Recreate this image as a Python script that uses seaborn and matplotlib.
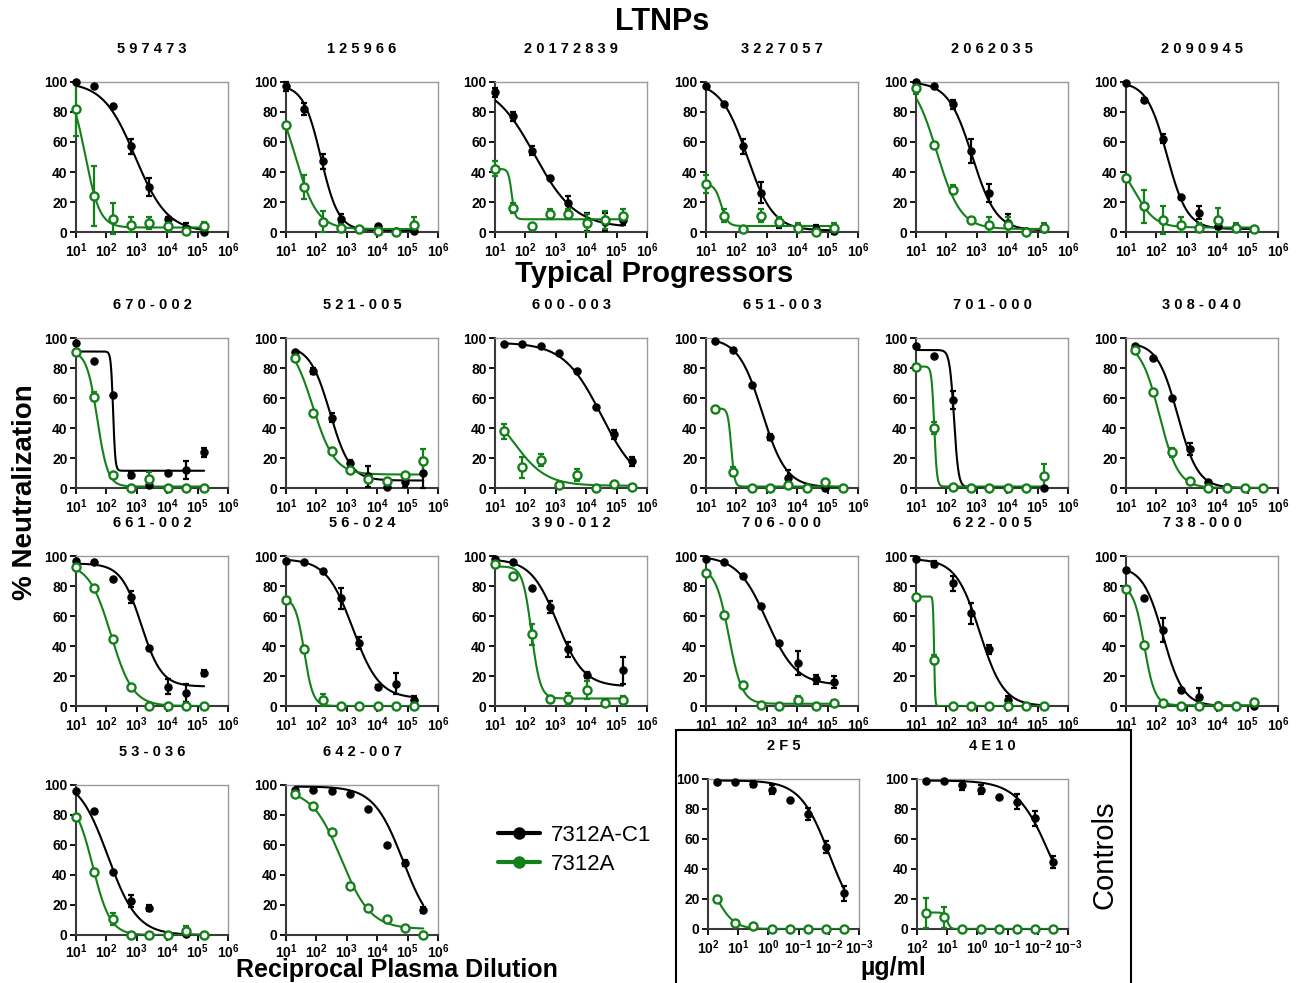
import numpy as np
import matplotlib
matplotlib.use("Agg")
import matplotlib.pyplot as plt
from matplotlib.lines import Line2D
from matplotlib.patches import Rectangle
import seaborn as sns

# === Data: dilution / concentration series ===
DIL_10 = [10, 40, 160, 640, 2560, 10240, 40960, 163840]
DIL_20 = [20, 80, 320, 1280, 5120, 20480, 81920, 327680]
CONC = [50, 12.5, 3.125, 0.781, 0.195, 0.0488, 0.0122, 0.00305]

NAMES = ["597473", "125966", "20172839", "3227057", "2062035", "2090945",
         "670-002", "521-005", "600-003", "651-003", "701-000", "308-040",
         "661-002", "56-024", "390-012", "706-000", "622-005", "738-000",
         "53-036", "642-007"]
START = [10, 10, 10, 10, 10, 10,
         10, 20, 20, 20, 10, 20,
         10, 10, 10, 10, 10, 10,
         10, 20]

# 7312A-C1 (black, filled)
C1_MEAN = [
    [100, 97, 84, 57, 30, 9, 3, 0],
    [97, 82, 47, 9, 2, 4, 1, 1],
    [93, 77, 54, 36, 19, 7, 7, 8],
    [97, 85, 57, 26, 6, 3, 2, 1],
    [100, 97, 85, 54, 26, 6, 1, 2],
    [99, 88, 62, 23, 13, 4, 3, 2],
    [97, 85, 62, 9, 2, 10, 12, 24],
    [91, 78, 47, 17, 8, 1, 4, 10],
    [96, 96, 95, 90, 78, 54, 36, 18],
    [98, 92, 69, 34, 7, 1, 0, 0],
    [95, 88, 59, 0, 0, 0, 0, 0],
    [95, 87, 60, 26, 4, 1, 0, 0],
    [97, 96, 85, 73, 39, 13, 9, 22],
    [97, 96, 90, 72, 42, 13, 15, 4],
    [98, 96, 79, 66, 38, 21, 3, 24],
    [98, 96, 87, 67, 42, 29, 18, 16],
    [98, 95, 82, 62, 38, 4, 0, 0],
    [91, 72, 51, 11, 6, 1, 0, 0],
    [96, 83, 42, 23, 18, 0, 1, 0],
    [97, 97, 96, 94, 84, 60, 48, 17],
]
C1_SD = [
    [0, 0, 0, 5, 6, 1, 3, 0],
    [3, 4, 5, 3, 1, 1, 0, 0],
    [3, 3, 3, 1, 5, 6, 6, 3],
    [0, 0, 5, 7, 3, 2, 3, 2],
    [0, 1, 3, 8, 6, 6, 1, 1],
    [0, 1, 3, 1, 4, 2, 2, 1],
    [0, 0, 0, 2, 1, 1, 6, 3],
    [0, 2, 3, 2, 7, 0, 3, 10],
    [0, 0, 0, 0, 0, 0, 3, 3],
    [0, 0, 0, 2, 5, 0, 0, 0],
    [0, 0, 6, 0, 0, 0, 0, 0],
    [0, 0, 0, 4, 1, 0, 0, 0],
    [0, 0, 0, 4, 0, 5, 6, 2],
    [0, 0, 0, 7, 4, 1, 7, 3],
    [0, 0, 0, 4, 5, 2, 1, 9],
    [0, 0, 0, 0, 0, 8, 3, 4],
    [0, 2, 5, 7, 3, 3, 0, 0],
    [0, 1, 8, 1, 6, 1, 0, 0],
    [0, 0, 0, 4, 2, 0, 0, 0],
    [0, 0, 0, 0, 0, 0, 2, 2],
]
# 7312A (green, open)
A_MEAN = [
    [82, 24, 9, 5, 6, 4, 1, 4],
    [71, 30, 7, 3, 2, 1, 0, 5],
    [42, 16, 4, 12, 12, 6, 8, 11],
    [32, 11, 2, 11, 7, 3, 0, 3],
    [96, 58, 28, 8, 5, 5, 0, 3],
    [36, 17, 8, 5, 3, 8, 3, 2],
    [91, 61, 9, 0, 6, 0, 0, 0],
    [87, 50, 25, 12, 6, 5, 9, 18],
    [38, 14, 19, 2, 9, 0, 3, 1],
    [53, 11, 0, 0, 2, 0, 4, 0],
    [81, 40, 1, 0, 0, 0, 0, 8],
    [92, 64, 24, 5, 0, 0, 0, 0],
    [93, 79, 45, 13, 0, 0, 0, 0],
    [71, 38, 4, 0, 0, 0, 0, 0],
    [95, 87, 48, 5, 5, 11, 2, 4],
    [89, 61, 14, 1, 0, 4, 0, 2],
    [73, 31, 0, 0, 0, 0, 0, 0],
    [78, 41, 2, 0, 0, 0, 0, 3],
    [79, 42, 11, 0, 0, 0, 3, 0],
    [94, 86, 69, 33, 18, 11, 5, 0],
]
A_SD = [
    [18, 20, 10, 5, 4, 4, 2, 3],
    [0, 8, 7, 3, 1, 1, 0, 5],
    [5, 3, 0, 3, 3, 6, 6, 4],
    [6, 4, 0, 4, 3, 3, 0, 3],
    [4, 0, 3, 0, 5, 5, 0, 3],
    [0, 11, 9, 5, 3, 8, 3, 0],
    [0, 3, 0, 0, 5, 0, 0, 0],
    [0, 0, 2, 0, 2, 0, 0, 8],
    [5, 7, 4, 0, 4, 0, 0, 0],
    [0, 3, 0, 0, 2, 0, 0, 0],
    [2, 4, 0, 0, 0, 0, 0, 8],
    [0, 0, 3, 0, 0, 0, 0, 0],
    [0, 0, 0, 0, 0, 0, 0, 0],
    [2, 2, 4, 0, 0, 0, 0, 0],
    [2, 0, 7, 0, 4, 6, 0, 3],
    [0, 0, 2, 0, 0, 3, 0, 2],
    [0, 3, 0, 0, 0, 0, 0, 0],
    [0, 0, 0, 0, 0, 0, 0, 2],
    [0, 2, 4, 0, 0, 0, 3, 0],
    [0, 0, 0, 2, 0, 0, 0, 0],
]

# fitted 4PL parameters: (top, bottom, log10 IC50, hill)
C1_FIT = [
    (100, 0, 2.95, 0.82), (98, 1, 2.15, 1.5), (100, 3, 2.3, 0.65),
    (100, 1, 2.35, 1.0), (100, 1, 2.85, 1.1), (100, 2, 2.35, 1.3),
    (91, 11.5, 2.22, 12), (95, 5, 2.45, 1.3), (97, 0, 4.5, 0.7),
    (100, 0.5, 2.85, 1.1), (92, 0.5, 2.25, 6), (97, 0, 2.7, 1.3),
    (95, 13, 3.15, 1.3), (98, 5, 3.2, 1.0), (98, 13, 3.05, 1.0),
    (100, 14, 3.0, 0.9), (98, 0, 3.1, 1.1), (93, 0, 2.22, 1.3),
    (105, 0, 2.05, 0.9), (99, 0, 4.85, 0.9),
]
A_FIT = [
    (100, 3, 1.3, 1.8), (100, 2, 1.3, 1.2), (42, 8.5, 1.55, 8),
    (32, 4, 1.5, 4), (105, 2, 1.68, 1.1), (50, 3, 1.3, 1.3),
    (91, 1, 1.7, 2.5), (100, 9, 1.88, 1.2), (60, 1.5, 1.6, 0.8),
    (53, 1, 1.83, 8), (81, 1, 1.6, 10), (97, 0, 2.1, 1.4),
    (95, 0, 2.15, 1.2), (72, 0, 1.6, 3), (93, 5, 2.2, 3),
    (92, 1.5, 1.75, 2), (73, 0, 1.595, 25), (80, 0.5, 1.6, 2.5),
    (92, 0, 1.55, 1.5), (97, 4, 2.82, 0.9),
]

# controls (antibodies, ug/ml)
CTRL_NAMES = ["2F5", "4E10"]
CTRL_C1_MEAN = [[98, 98, 97, 93, 86, 77, 55, 24],
                [99, 99, 96, 93, 88, 85, 74, 45]]
CTRL_C1_SD = [[0, 0, 2, 3, 0, 4, 4, 5],
              [0, 0, 3, 3, 0, 5, 5, 4]]
CTRL_A_MEAN = [[20, 4, 2, 0, 0, 0, 0, 0],
               [11, 8, 0, 0, 0, 0, 0, 0]]
CTRL_A_SD = [[2, 0, 1, 0, 0, 0, 0, 0],
             [10, 7, 0, 0, 0, 0, 0, 0]]
CTRL_C1_FIT = [(99, 0, -2.02, -0.9), (99, 0, -2.4, -0.8)]
CTRL_A_FIT = [(40, 0, 1.7, -1.5), (11, 0, 1.0, -8)]

DIL_TICK_EXP = [1, 2, 3, 4, 5, 6]
CONC_TICK_EXP = [2, 1, 0, -1, -2, -3]
Y_TICKS = [0, 20, 40, 60, 80, 100]

GREEN = "#13801a"
W, H = 1299, 983

sns.set_style("ticks")
plt.rcParams["font.family"] = ["Liberation Sans", "DejaVu Sans"]
plt.rcParams["mathtext.fontset"] = "custom"
plt.rcParams["mathtext.bf"] = "Liberation Sans:bold"
plt.rcParams["mathtext.rm"] = "Liberation Sans"
for key in ["text.color", "axes.labelcolor", "xtick.color", "ytick.color"]:
    plt.rcParams[key] = "black"


def four_pl(x, fit):
    top, bottom, c, h = fit
    return bottom + (top - bottom) / (1 + 10 ** ((np.log10(x) - c) * h))


def px_axes(fig, left, top, w=152, h=150):
    return fig.add_axes([left / W, 1 - (top + h) / H, w / W, h / H])


def style_axes(ax, tick_exp, xpad=3):
    for s in ["left", "bottom"]:
        ax.spines[s].set_color("#3a3a3a")
        ax.spines[s].set_linewidth(1.5)
    for s in ["top", "right"]:
        ax.spines[s].set_color("#9a9a9a")
        ax.spines[s].set_linewidth(1.0)
    ax.set_xscale("log")
    ax.set_ylim(0, 100)
    ax.set_yticks(Y_TICKS)
    ax.set_yticklabels([str(v) for v in Y_TICKS], fontweight="bold", fontsize=10)
    ax.set_xticks([10.0 ** e for e in tick_exp])
    ax.set_xticklabels([r"$\mathbf{10^{%d}}$" % e for e in tick_exp], fontsize=10)
    ax.xaxis.set_minor_locator(matplotlib.ticker.NullLocator())
    ax.tick_params(direction="out", length=4, width=1.3, pad=2, colors="black")
    ax.tick_params(axis="x", pad=xpad)
    ax.grid(False)


def draw_series(ax, x, mean, sd, fit, color, filled):
    xs = np.logspace(np.log10(min(x)), np.log10(max(x)), 300)
    sns.lineplot(x=xs, y=four_pl(xs, fit), ax=ax, color=color, lw=1.5,
                 legend=False, zorder=3, clip_on=True)
    ax.errorbar(x, mean, yerr=sd, fmt="none", ecolor=color, elinewidth=1.6,
                capsize=2.5, capthick=1.6, zorder=4, clip_on=False)
    if filled:
        ax.scatter(x, mean, s=26, color=color, zorder=5, clip_on=False)
    else:
        ax.scatter(x, mean, s=34, facecolor="white", edgecolor=color,
                   linewidth=1.7, zorder=6, clip_on=False)


def panel_title(ax, text):
    ax.text(0.5, 1 + 33 / 150, " ".join(text), transform=ax.transAxes,
            ha="center", va="center", fontsize=10.5, fontweight="bold")


fig = plt.figure(figsize=(W / 100, H / 100), dpi=100)

col_left = [76, 286, 495, 706, 916, 1126]
row_top = [82, 338, 556, 785]

for i, name in enumerate(NAMES):
    r, c = divmod(i, 6)
    ax = px_axes(fig, col_left[c], row_top[r])
    x = DIL_10 if START[i] == 10 else DIL_20
    draw_series(ax, x, C1_MEAN[i], C1_SD[i], C1_FIT[i], "black", True)
    draw_series(ax, x, A_MEAN[i], A_SD[i], A_FIT[i], GREEN, False)
    style_axes(ax, DIL_TICK_EXP, xpad=1 if r == 3 else 3)
    ax.set_xlim(10, 1e6)
    panel_title(ax, name)

for j, name in enumerate(CTRL_NAMES):
    ax = px_axes(fig, [708, 917][j], 779, w=151)
    draw_series(ax, CONC, CTRL_C1_MEAN[j], CTRL_C1_SD[j], CTRL_C1_FIT[j], "black", True)
    draw_series(ax, CONC, CTRL_A_MEAN[j], CTRL_A_SD[j], CTRL_A_FIT[j], GREEN, False)
    style_axes(ax, CONC_TICK_EXP)
    ax.set_xlim(100, 1e-3)
    panel_title(ax, name)

# controls frame
fig.patches.append(Rectangle((676 / W, 1 - 990 / H), 455 / W, 260 / H,
                             transform=fig.transFigure, fill=False,
                             edgecolor="black", linewidth=1.5))

# group / axis labels
fig.text(662 / W, 1 - 22 / H, "LTNPs", ha="center", va="center",
         fontsize=22, fontweight="bold")
fig.text(654 / W, 1 - 274 / H, "Typical Progressors", ha="center", va="center",
         fontsize=21, fontweight="bold")
fig.text(25 / W, 1 - 492 / H, "% Neutralization", rotation=90, ha="center",
         va="center", fontsize=20, fontweight="bold")
fig.text(397 / W, 1 - 977 / H, "Reciprocal Plasma Dilution", ha="center",
         va="baseline", fontsize=18, fontweight="bold")
fig.text(893 / W, 1 - 968 / H, "µg/ml", ha="center", va="center",
         fontsize=18, fontweight="bold")
fig.text(1105 / W, 1 - 855 / H, "Controls", rotation=90, ha="center",
         va="center", fontsize=21)

handles = [
    Line2D([], [], color="black", lw=3, marker="o", markersize=8),
    Line2D([], [], color=GREEN, lw=3, marker="o", markersize=8),
]
fig.legend(handles, ["7312A-C1", "7312A"], loc="upper left",
           bbox_to_anchor=(478 / W, 1 - 805 / H), frameon=False, fontsize=16,
           handlelength=1.9, handletextpad=0.5, labelspacing=0.35)

fig.savefig("out.png", dpi=100)
plt.close(fig)
